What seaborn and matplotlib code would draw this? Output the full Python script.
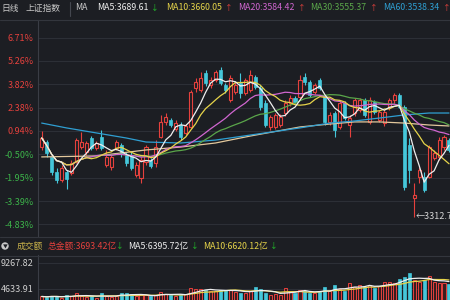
import matplotlib
matplotlib.use("Agg")
import matplotlib.pyplot as plt
from matplotlib.lines import Line2D
import seaborn as sns
import pandas as pd
import numpy as np

# ---------------- data (percent change vs. base) ----------------
opens = [-0.04, 0.26, -0.66, -1.58, -2.07, -1.58, -1.64, -0.97, -0.04, -0.35,
         0.51, -0.11, 0.57, -1.15, -1.27, -0.11, 0.08, -0.54, -0.54, -1.77,
         -1.95, -0.97, -0.84, -1.03, 0.57, 1.49, 1.62, 1.06, 1.31, 0.82,
         1.19, 3.58, 3.46, 4.51, 3.77, 4.08, 4.69, 3.77, 2.85, 3.34,
         3.89, 3.28, 3.46, 4.26, 3.58, 2.66, 1.19, 1.19, 1.31, 2.05,
         2.66, 2.97, 3.03, 4.26, 3.95, 3.34, 4.08, 3.03, 1.49, 2.05,
         1.19, 2.66, 1.31, 2.05, 2.23, 2.85, 1.49, 2.72, 1.62, 1.43,
         2.42, 2.85, 3.15, 2.42, 0.08, -3.18, -1.89, -1.89, -1.89, -0.72,
         -0.66, -0.04, 0.39]
closes = [0.51, -0.41, -1.58, -2.07, -1.34, -2.01, -1.03, 0.39, 0.26, 0.20,
          -0.11, 0.20, -0.11, -0.66, -0.66, 0.26, -0.41, -1.03, -1.34, -1.15,
          -0.84, -0.04, -1.21, -0.04, 1.49, 1.80, 1.31, 1.43, 0.57, 1.25,
          3.34, 3.95, 4.20, 3.89, 4.08, 4.57, 3.89, 3.46, 4.20, 3.77,
          3.28, 4.08, 4.38, 3.65, 2.42, 1.31, 1.80, 1.92, 1.80, 2.66,
          2.97, 2.72, 4.08, 3.95, 3.15, 3.77, 3.58, 1.49, 1.92, 1.00,
          2.66, 1.74, 1.74, 2.85, 2.85, 1.92, 2.85, 2.11, 2.11, 2.11,
          2.85, 3.15, 2.42, -2.50, -1.46, -2.99, -1.46, -2.69, -0.04, -0.41,
          0.39, 0.57, -0.23]
highs = [0.94, 0.39, -0.54, -1.34, -1.15, -1.46, -0.84, 0.51, 0.88, 0.32,
         0.63, 0.32, 1.00, -0.23, -0.54, 0.39, 0.20, -0.35, -0.35, -0.97,
         -0.66, 0.08, -0.72, 0.39, 1.92, 2.05, 1.74, 1.62, 1.49, 1.37,
         3.46, 4.20, 4.57, 4.69, 4.26, 4.69, 4.88, 3.89, 4.38, 3.95,
         4.51, 4.20, 4.69, 4.38, 3.77, 2.85, 1.92, 2.05, 1.98, 2.85,
         3.15, 3.09, 4.38, 4.51, 4.08, 3.89, 4.20, 3.15, 2.11, 2.17,
         2.85, 2.79, 1.92, 2.97, 2.97, 2.97, 3.03, 2.85, 2.23, 2.23,
         2.97, 3.28, 3.28, 2.54, 0.51, -2.26, -1.27, -1.58, 0.08, -0.23,
         0.57, 0.70, 0.51]
lows = [-0.23, -0.66, -1.77, -2.26, -2.20, -2.63, -1.77, -1.03, -0.17, -0.54,
        -0.23, -0.23, -0.23, -1.27, -1.46, -0.23, -0.66, -1.21, -1.46, -1.89,
        -2.26, -1.15, -1.34, -1.27, 0.51, 1.31, 1.19, 0.94, 0.39, 0.70,
        1.12, 3.34, 3.34, 3.71, 3.58, 3.95, 3.77, 3.28, 2.72, 3.22,
        2.97, 3.15, 3.34, 3.52, 2.23, 1.19, 1.00, 1.06, 1.19, 1.86,
        2.48, 2.60, 2.85, 3.77, 3.03, 3.22, 3.46, 1.31, 1.31, 0.57,
        1.06, 1.62, 0.57, 1.86, 2.11, 1.80, 1.37, 1.98, 1.49, 1.25,
        2.23, 2.66, 2.36, -2.69, -2.26, -4.35, -2.26, -2.81, -1.95, -0.84,
        -0.84, -0.23, -0.35]
volumes = [3300, 3200, 3400, 3300, 3100, 3500, 3300, 3900, 3400, 3200,
           3300, 3100, 3900, 3300, 3200, 3400, 3900, 3900, 3700, 3300,
           3500, 3600, 3300, 3500, 4100, 3800, 3600, 3400, 3600, 3700,
           4800, 4700, 4600, 4500, 4200, 4300, 4500, 4400, 4500, 4100,
           4000, 3900, 4300, 4990, 4600, 3900, 3500, 3700, 3600, 4800,
           4300, 3900, 4500, 4300, 4000, 3900, 4200, 5000, 4200, 5300,
           4600, 4300, 5700, 5000, 5300, 5000, 5400, 4900, 5100, 5900,
           5800, 5700, 6400, 6800, 7500, 6200, 5900, 6200, 6900, 5900,
           5700, 5700, 5600]
# long moving averages (candle index, percent)
ma60_idx = [0, 5, 11, 17, 21, 28, 35, 42, 52, 58, 63, 68, 73, 78, 82]
ma60_pct = [1.43, 1.13, 0.82, 0.51, 0.26, 0.20, 0.38, 0.69, 1.13, 1.43, 1.56, 1.74, 1.93, 2.05, 2.05]
ma120_idx = [0, 11, 21, 28, 35, 42, 52, 58, 63, 68, 73, 78, 82]
ma120_pct = [-0.66, -0.60, -0.23, -0.05, 0.20, 0.63, 1.19, 1.37, 1.50, 1.50, 1.43, 1.31, 1.25]
pct_ticks = [6.71, 5.26, 3.82, 2.38, 0.94, -0.50, -1.95, -3.39, -4.83]
vol_ticks = [9267.82, 4633.91]
low_label = "←3312.7"

# ---------------- style ----------------
BG = "#1c1e23"
GRID = "#2c2f36"
RED = "#e5413d"
CYAN = "#45c7da"
GREEN_T = "#3cb44a"
C_MA5 = "#eeeeee"
C_MA10 = "#e6d44a"
C_MA20 = "#d066d0"
C_MA30 = "#5aa64a"
C_MA60 = "#2f9fd2"
C_MA120 = "#e3c89c"

sns.set_theme(style="dark", rc={"axes.facecolor": BG, "figure.facecolor": BG,
                                "savefig.facecolor": BG})
plt.rcParams['font.family'] = ['Noto Sans CJK SC', 'DejaVu Sans']
plt.rcParams['axes.unicode_minus'] = False

fig = plt.figure(figsize=(4.5, 3), dpi=100)
ax = fig.add_axes([38/450, 1-236/300, 412/450, 216/300])
axv = fig.add_axes([38/450, 0, 412/450, 45/300])

n = len(closes)
idx = np.arange(n)
df = pd.DataFrame({"i": idx, "o": opens, "h": highs, "l": lows, "c": closes, "v": volumes})
up = df["c"] >= df["o"]

# ---------------- main chart ----------------
ax.set_facecolor(BG)
for i, r in df.iterrows():
    col = RED if up[i] else CYAN
    ax.vlines(r.i, r.l, r.h, color=col, lw=0.8, zorder=2)
    lo, hi = min(r.o, r.c), max(r.o, r.c)
    ht = max(hi - lo, 0.03)
    if up[i]:
        ax.bar(r.i, ht, bottom=lo, width=0.62, facecolor=BG, edgecolor=col, lw=0.8, zorder=3)
    else:
        ax.bar(r.i, ht, bottom=lo, width=0.62, facecolor=col, edgecolor=col, lw=0.5, zorder=3)

cs = pd.Series(closes)
ma_lines = [(cs.rolling(30, min_periods=1).mean(), C_MA30),
            (cs.rolling(20, min_periods=1).mean(), C_MA20),
            (cs.rolling(10, min_periods=1).mean(), C_MA10),
            (cs.rolling(5, min_periods=1).mean(), C_MA5)]
sns.lineplot(x=ma120_idx, y=ma120_pct, ax=ax, color=C_MA120, lw=0.9, zorder=4)
sns.lineplot(x=ma60_idx, y=ma60_pct, ax=ax, color=C_MA60, lw=0.9, zorder=4)
for s, c in ma_lines:
    sns.lineplot(x=idx, y=s.values, ax=ax, color=c, lw=0.9, zorder=4)

imin = int(np.argmin(lows))
ax.text(imin + 0.3, lows[imin], low_label, color="#d6d6d6", fontsize=6.5,
        ha="left", va="center", zorder=6, clip_on=False)

ax.set_xlim(-0.74, 82.2)
ax.set_ylim(-5.54, 7.79)
ax.set_yticks(pct_ticks)
ax.set_yticklabels([f"{v:.2f}%" for v in pct_ticks])
for lab, v in zip(ax.get_yticklabels(), pct_ticks):
    lab.set_color(RED if v > 0 else GREEN_T)
ax.tick_params(axis="y", length=0, pad=3, labelsize=6.5)
ax.set_xticks([])
ax.grid(axis="y", color=GRID, lw=0.8)
ax.grid(axis="x", visible=False)
for sp in ["top", "right", "bottom"]:
    ax.spines[sp].set_visible(False)
ax.spines["left"].set_color("#3a3d45")
ax.spines["left"].set_linewidth(0.8)
ax.set_xlabel("")
ax.set_ylabel("")

# ---------------- volume panel ----------------
axv.set_facecolor(BG)
for i, r in df.iterrows():
    col = RED if up[i] else CYAN
    if up[i]:
        axv.bar(r.i, r.v, width=0.62, facecolor="#3a1c1e", edgecolor=col, lw=0.7, zorder=3)
    else:
        axv.bar(r.i, r.v, width=0.62, facecolor=col, edgecolor=col, lw=0.5, zorder=3)
vs = pd.Series(volumes)
sns.lineplot(x=idx, y=vs.rolling(10, min_periods=1).mean().values, ax=axv, color=C_MA10, lw=0.9, zorder=4)
sns.lineplot(x=idx, y=vs.rolling(5, min_periods=1).mean().values, ax=axv, color=C_MA5, lw=0.9, zorder=4)
axv.set_xlim(-0.74, 82.2)
axv.set_ylim(2673, 10693)
axv.set_yticks(vol_ticks)
axv.set_yticklabels([f"{v:.2f}" for v in vol_ticks], color="#cfcfcf")
axv.tick_params(axis="y", length=0, pad=3, labelsize=6.5)
axv.set_xticks([])
axv.grid(axis="y", color=GRID, lw=0.8)
axv.grid(axis="x", visible=False)
for sp in ["top", "right", "bottom"]:
    axv.spines[sp].set_visible(False)
axv.spines["left"].set_color("#3a3d45")
axv.spines["left"].set_linewidth(0.8)
axv.set_xlabel("")
axv.set_ylabel("")

# ---------------- separators ----------------
for yy in [19.5, 236.5, 255.5]:
    fig.add_artist(Line2D([0, 1], [1 - yy/300, 1 - yy/300], color="#33363d", lw=0.8))
fig.add_artist(Line2D([70/450, 70/450], [1 - 2/300, 1 - 16/300], color="#44474f", lw=0.8))

# ---------------- header texts ----------------
def ft(x, y, s, c, fs=6.3, **kw):
    fig.text(x/450, 1 - y/300, s, color=c, fontsize=fs, ha="left", va="center", **kw)

ft(1, 8, "日线", "#c8c8c8")
ft(26, 8, "上证指数", "#c8c8c8")
ft(75, 8, "MA", "#c8c8c8")
ft(97, 8, "MA5:3689.61", C_MA5)
ft(151, 8, "↓", "#22c42a", fs=5.5)
ft(166, 8, "MA10:3660.05", C_MA10)
ft(225, 8, "↑", RED, fs=5.5)
ft(238, 8, "MA20:3584.42", C_MA20)
ft(298, 8, "↑", RED, fs=5.5)
ft(310, 8, "MA30:3555.37", C_MA30)
ft(370, 8, "↑", RED, fs=5.5)
ft(383, 8, "MA60:3538.34", C_MA60)
ft(443, 8, "↑", RED, fs=5.5)

fig.text(5/450, 1 - 246/300, "▼", color=BG, fontsize=3.5, ha="center", va="center",
         bbox=dict(boxstyle="circle,pad=0.25", fc="#c8c8c8", ec="none"))
ft(17, 246, "成交额", "#c9b24a")
ft(48, 246, "总金额:3693.42亿", RED)
ft(116, 246, "↓", "#22c42a", fs=5.5)
ft(128, 246, "MA5:6395.72亿", C_MA5)
ft(191, 246, "↓", "#22c42a", fs=5.5)
ft(203, 246, "MA10:6620.12亿", C_MA10)
ft(270, 246, "↓", "#22c42a", fs=5.5)

fig.savefig("out.png", dpi=100, facecolor=BG)
